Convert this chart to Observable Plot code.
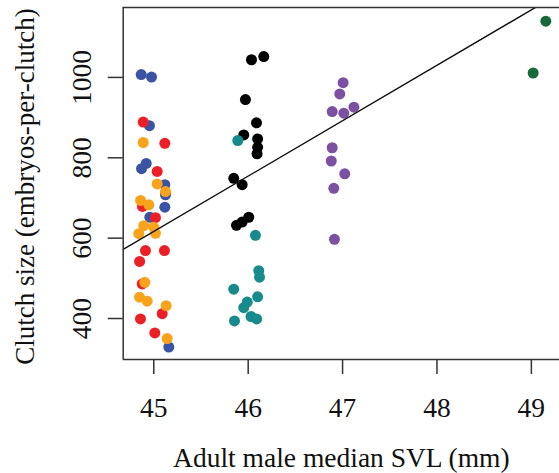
<!DOCTYPE html>
<html>
<head>
<meta charset="utf-8">
<script src="https://cdn.jsdelivr.net/npm/d3@7"></script>
<script src="https://cdn.jsdelivr.net/npm/@observablehq/plot@0.6"></script>
<style>
  html, body { margin: 0; padding: 0; background: #fff; overflow: hidden; }
</style>
</head>
<body>
<div id="chart"></div>
<script>
// Adult male median SVL (mm) and clutch size per group
const blueX   = [44.867, 44.976, 44.954, 44.87, 44.92, 45.117, 45.124, 45.117, 44.958, 45.159];
const blueY   = [1007, 1001, 880, 773, 786, 733, 708, 677, 652, 329];
const redX    = [44.888, 45.117, 45.036, 44.88, 45.018, 44.912, 45.113, 44.85, 44.877, 45.089, 44.859, 45.011];
const redY    = [889, 836, 766, 679, 651, 569, 569, 542, 486, 412, 399, 364];
const orangeX = [44.888, 45.036, 45.124, 44.86, 44.947, 44.894, 45.0, 44.841, 45.018, 44.905, 44.849, 44.93, 45.131, 45.142];
const orangeY = [838, 735, 716, 694, 683, 631, 627, 611, 612, 490, 453, 443, 432, 350];
const blackX  = [46.035, 46.165, 45.971, 46.088, 45.953, 46.10, 46.10, 46.094, 45.847, 45.936, 45.876, 45.936, 46.006];
const blackY  = [1044, 1052, 945, 887, 857, 847, 826, 810, 749, 733, 632, 640, 652];
const tealX   = [45.89, 46.077, 46.112, 46.12, 45.847, 46.10, 45.99, 45.953, 46.03, 46.09, 45.855];
const tealY   = [843, 607, 519, 503, 473, 454, 441, 427, 405, 399, 394];
const purpleX = [47.006, 46.97, 46.89, 47.013, 47.12, 46.89, 46.88, 47.023, 46.907, 46.914];
const purpleY = [987, 959, 915, 911, 926, 825, 792, 760, 724, 597];
const greenX  = [49.153, 49.019];
const greenY  = [1140, 1011];

const groupColors = {blue: "#3a53a4", red: "#ec1f27", orange: "#f9a31c", black: "#000000", teal: "#178b8b", purple: "#7d51a1", green: "#17693a"};

// Fitted line: clutch = intercept + slope * SVL
const lineIntercept = -5589;
const lineSlope = 137.9;

const xTicks = [45, 46, 47, 48, 49];
const yTicks = [400, 600, 800, 1000];
const xDomain = [44.676, 49.298];
const yDomain = [298, 1174];

const groups = [
  ["blue", blueX, blueY], ["red", redX, redY], ["orange", orangeX, orangeY],
  ["black", blackX, blackY], ["teal", tealX, tealY], ["purple", purpleX, purpleY],
  ["green", greenX, greenY]
];
const points = groups.flatMap(([g, xs, ys]) => xs.map((x, i) => ({group: g, svl: x, clutch: ys[i]})));
const fitLine = xDomain.map(x => ({svl: x, clutch: lineIntercept + lineSlope * x}));

const font = "'Liberation Serif', 'Times New Roman', serif";

const chart = Plot.plot({
  width: 559,
  height: 473,
  marginLeft: 122.7,
  marginRight: 0,
  marginTop: 7,
  marginBottom: 114,
  style: {background: "#fff", fontFamily: font},
  x: {domain: xDomain, axis: null},
  y: {domain: yDomain, axis: null},
  marks: [
    Plot.axisX({ticks: xTicks, tickSize: 15, tickFormat: () => "", label: null, stroke: "#333", strokeWidth: 1.5}),
    Plot.axisY({ticks: yTicks, tickSize: 15, tickFormat: () => "", label: null, stroke: "#333", strokeWidth: 1.5}),
    Plot.dot(points, {x: "svl", y: "clutch", r: 5.5, fill: d => groupColors[d.group], stroke: "none"}),
    Plot.line(fitLine, {x: "svl", y: "clutch", stroke: "#111", strokeWidth: 1.4, clip: true}),
    Plot.ruleY([yDomain[0], yDomain[1]], {stroke: "#333", strokeWidth: 1.5}),
    Plot.ruleX([xDomain[0]], {stroke: "#333", strokeWidth: 1.5}),
    Plot.text(xTicks, {x: d => d, frameAnchor: "bottom", lineAnchor: "bottom", dy: 57, text: d => String(d), fontSize: 27.5, fontFamily: font, fill: "#111"}),
    Plot.text(yTicks, {y: d => d, frameAnchor: "left", lineAnchor: "bottom", textAnchor: "middle", rotate: -90, dx: -32, text: d => String(d), fontSize: 27.5, fontFamily: font, fill: "#111"}),
    Plot.text(["Adult male median SVL (mm)"], {frameAnchor: "bottom", lineAnchor: "bottom", dy: 107, text: d => d, fontSize: 27.5, fontFamily: font, fill: "#111"}),
    Plot.text(["Clutch size (embryos-per-clutch)"], {frameAnchor: "left", lineAnchor: "bottom", textAnchor: "middle", rotate: -90, dx: -89.5, dy: 3, text: d => d, fontSize: 27, fontFamily: font, fill: "#111"})
  ]
});
document.getElementById("chart").appendChild(chart);
</script>
</body>
</html>
